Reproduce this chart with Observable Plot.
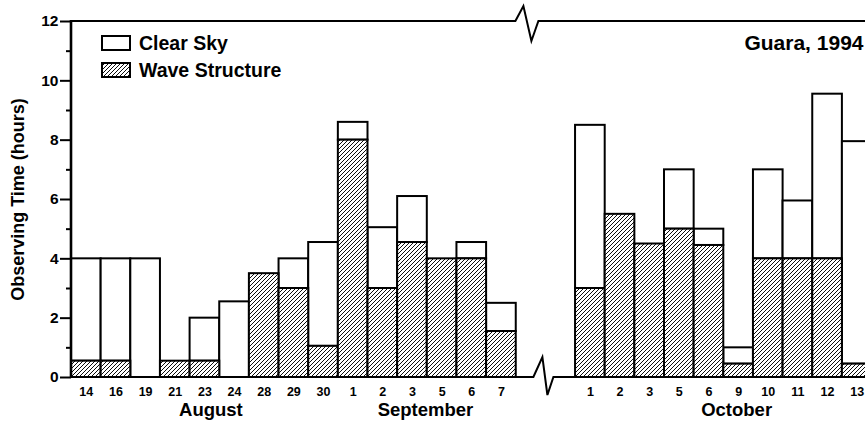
<!DOCTYPE html>
<html><head><meta charset="utf-8">
<script src="https://cdn.jsdelivr.net/npm/d3@7"></script>
<script src="https://cdn.jsdelivr.net/npm/@observablehq/plot@0.6"></script>
<style>html,body{margin:0;padding:0;background:#fff;overflow:hidden}</style>
</head><body><div id="chart"></div>
<script>
// ---- data ----
const augustDays = ["14","16","19","21","23","24","28","29","30"];
const septemberDays = ["1","2","3","5","6","7"];
const octoberDays = ["1","2","3","5","6","9","10","11","12","13"];
// total observing time with clear sky (hours), in the order Aug, Sep, Oct
const clearSkyHours = [4, 4, 4, 0.55, 2, 2.55, 3.5, 4, 4.55,
                       8.6, 5.05, 6.1, 4, 4.55, 2.5,
                       8.5, 5.5, 4.5, 7, 5, 1, 7, 5.95, 9.55, 7.95];
// part of it with wave structure (hours)
const waveStructureHours = [0.55, 0.55, 0, 0.55, 0.55, 0, 3.5, 3, 1.05,
                            8, 3, 4.55, 4, 4, 1.55,
                            3, 5.5, 4.5, 5, 4.45, 0.45, 4, 4, 4, 0.45];
const yMajorTicks = [0, 2, 4, 6, 8, 10, 12];
const yMinorTicks = [1, 3, 5, 7, 9, 11];
const monthNames = ["August", "September", "October"];
const legendLabels = ["Clear Sky", "Wave Structure"];
const stationLabel = "Guara, 1994";
const axisTitle = "Observing Time (hours)";

// ---- build table ----
const augKeys = augustDays.map(d => "Aug-" + d);
const sepKeys = septemberDays.map(d => "Sep-" + d);
const octKeys = octoberDays.map(d => "Oct-" + d);
const gapKeys = ["gap-a", "gap-b"];
const barKeys = [...augKeys, ...sepKeys, ...octKeys];
const xDomain = [...augKeys, ...sepKeys, ...gapKeys, ...octKeys];
const table = barKeys.map((k, i) => ({
  key: k,
  day: k.split("-")[1],
  total: clearSkyHours[i],
  wave: waveStructureHours[i]
}));

const FONT = "'Liberation Sans', Arial, Helvetica, sans-serif";
const step = 29.65;
const left = 71;

function defsMark() {
  const defs = d3.create("svg:defs");
  const p = defs.append("pattern")
    .attr("id", "hatch")
    .attr("patternUnits", "userSpaceOnUse")
    .attr("width", 4).attr("height", 4);
  p.append("rect").attr("width", 4).attr("height", 4).attr("fill", "white");
  p.append("path").attr("d", "M-1,1 l2,-2 M0,4 l4,-4 M3,5 l2,-2")
    .attr("stroke", "black").attr("stroke-width", 0.95);
  return defs.node();
}

function frameMark(index, scales, values, dimensions) {
  const {x, y} = scales;
  const g = d3.create("svg:g").attr("fill", "none").attr("stroke", "black")
    .attr("stroke-linejoin", "miter");
  const top = y(12), base = y(0);
  const gx = x(gapKeys[1]); // middle of the break
  // left axis
  g.append("path").attr("d", `M${left},${top - 1}V${base + 1}`).attr("stroke-width", 2.6);
  // top line with break
  g.append("path").attr("stroke-width", 2)
    .attr("d", `M${left},${top}H${gx - 30}L${gx - 22},${top - 15}L${gx - 14},${top + 20}L${gx - 7},${top}H${dimensions.width}`);
  // baseline with break
  g.append("path").attr("stroke-width", 2)
    .attr("d", `M${left},${base}H${gx - 12}L${gx - 3},${base - 20}L${gx + 2},${base + 18}L${gx + 8},${base}H${dimensions.width}`);
  return g.node();
}

function legendMark() {
  const g = d3.create("svg:g").attr("font-family", FONT).attr("text-anchor", "start");
  const fills = ["white", "url(#hatch)"];
  const rows = [36, 63];
  legendLabels.forEach((lab, i) => {
    g.append("rect").attr("x", 102).attr("y", rows[i]).attr("width", 28).attr("height", 14)
      .attr("fill", fills[i]).attr("stroke", "black").attr("stroke-width", 2);
    g.append("text").attr("x", 139).attr("y", rows[i] + 14).attr("font-size", 19.5)
      .attr("font-weight", "bold").attr("fill", "black").attr("text-anchor", "start").text(lab);
  });
  return g.node();
}

const monthOpts = {frameAnchor: "bottom", lineAnchor: "middle", fontSize: 18.5, fontWeight: "bold", fill: "black", textAnchor: "middle", dy: 33};

const chart = Plot.plot({
  width: 865,
  height: 427,
  marginTop: 21,
  marginBottom: 50,
  marginLeft: left,
  marginRight: 0,
  style: {fontFamily: FONT, background: "white", color: "black", overflow: "hidden"},
  x: {type: "band", domain: xDomain, range: [left, left + xDomain.length * step], padding: 0, round: false, axis: null},
  y: {domain: [0, 12], axis: null},
  marks: [
    defsMark,
    Plot.barY(table, {x: "key", y1: "wave", y2: "total", fill: "white", stroke: "black", strokeWidth: 2}),
    Plot.barY(table.filter(d => d.wave > 0), {x: "key", y1: 0, y2: "wave", fill: "url(#hatch)", stroke: "black", strokeWidth: 2}),
    frameMark,
    Plot.axisY({ticks: yMajorTicks, tickSize: 11, tickPadding: 2, fontSize: 15.5, fontWeight: "bold", strokeWidth: 2, label: null}),
    Plot.axisY({ticks: yMinorTicks, tickSize: 5, tickFormat: () => "", strokeWidth: 2, label: null}),
    Plot.axisX({ticks: barKeys, tickFormat: k => k.split("-")[1], tickSize: 0, tickPadding: 10, fontSize: 12.5, fontWeight: "bold", label: null}),
    Plot.text([axisTitle], {frameAnchor: "left", textAnchor: "middle", lineAnchor: "middle", dx: -53, rotate: -90, fontSize: 18, fontWeight: "bold", fill: "black"}),
    Plot.text([monthNames[0]], {...monthOpts, x: () => "Aug-23", dx: 6}),
    Plot.text([monthNames[1]], {...monthOpts, x: () => "Sep-3", dx: 13}),
    Plot.text([monthNames[2]], {...monthOpts, x: () => "Oct-9", dx: -2}),
    Plot.text([stationLabel], {frameAnchor: "top-right", lineAnchor: "top", dx: -2, dy: 14, textAnchor: "end", fontSize: 21, fontWeight: "bold", fill: "black"}),
    legendMark
  ]
});
document.getElementById("chart").append(chart);
</script>
</body></html>
